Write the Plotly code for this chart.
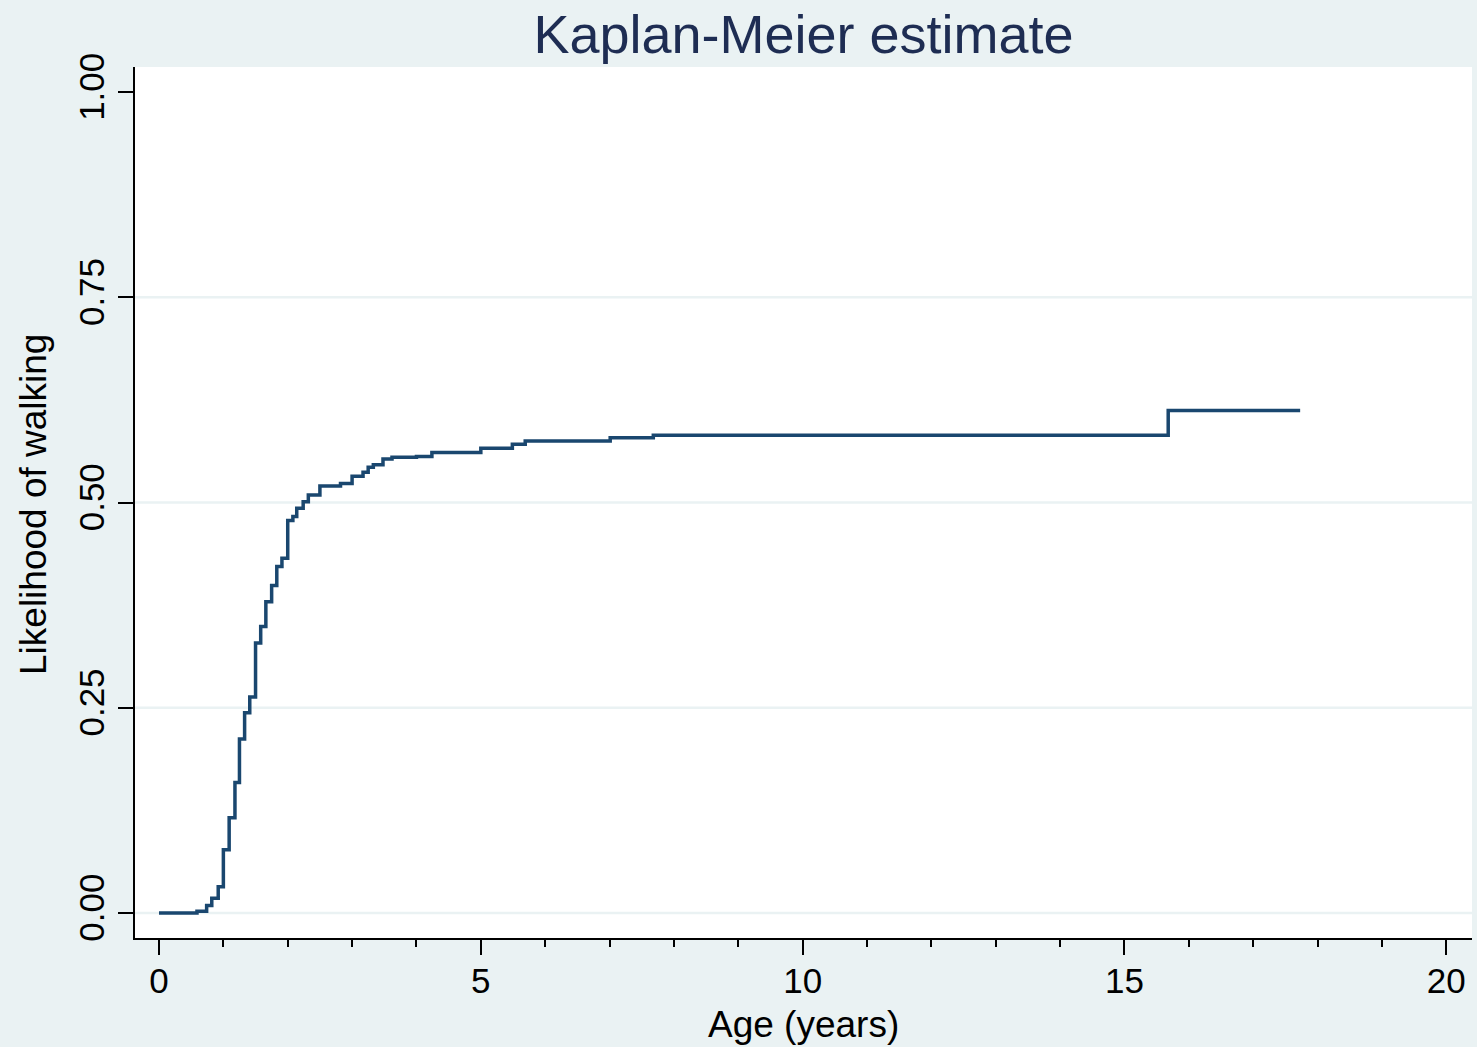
import plotly.graph_objects as go

# Kaplan-Meier step estimate
ages = [0, 0.59, 0.74, 0.82, 0.92, 1.00, 1.09, 1.18, 1.25, 1.33, 1.41, 1.50, 1.58,
        1.66, 1.75, 1.83, 1.91, 2.00, 2.08, 2.14, 2.24, 2.32, 2.50, 2.82, 3.00,
        3.17, 3.25, 3.33, 3.48, 3.62, 4.00, 4.24, 5.00, 5.49, 5.69, 7.01, 7.68,
        15.68, 17.73]
likelihood = [0, 0.002, 0.009, 0.018, 0.032, 0.077, 0.116, 0.159, 0.212, 0.244,
              0.263, 0.329, 0.349, 0.379, 0.399, 0.422, 0.432, 0.478, 0.483,
              0.493, 0.501, 0.509, 0.520, 0.523, 0.532, 0.537, 0.543, 0.546,
              0.553, 0.555, 0.556, 0.561, 0.566, 0.571, 0.575, 0.579, 0.582,
              0.612, 0.612]

x_ticks = [0, 5, 10, 15, 20]
y_ticks = [0, 0.25, 0.5, 0.75, 1.0]
y_tick_labels = ["0.00", "0.25", "0.50", "0.75", "1.00"]
grid_values = [0, 0.25, 0.5, 0.75]

FONT = "Liberation Sans, Arial, Helvetica, sans-serif"
NAVY = "#1a476f"
BG = "#eaf2f3"

fig = go.Figure()
fig.add_trace(go.Scatter(
    x=ages, y=likelihood, mode="lines", line_shape="hv",
    line=dict(color=NAVY, width=3.5), showlegend=False, hoverinfo="x+y",
))

for g in grid_values:
    fig.add_shape(type="line", xref="paper", x0=0, x1=1, yref="y", y0=g, y1=g,
                  line=dict(color=BG, width=2.5), layer="below")

fig.update_layout(
    width=1477, height=1047,
    margin=dict(l=135, r=5, t=67, b=109),
    paper_bgcolor=BG, plot_bgcolor="white",
    font=dict(family=FONT, color="black"),
    title=dict(text="Kaplan-Meier estimate", x=0.5, xref="paper", xanchor="center",
               y=1 - 34 / 1047, yref="container", yanchor="middle",
               font=dict(size=54, color="#1e2d53", family=FONT)),
    xaxis=dict(range=[-0.373, 20.40], tickvals=x_ticks, ticktext=[str(v) for v in x_ticks],
               showgrid=False, zeroline=False, showline=True, linecolor="black", linewidth=2,
               ticks="outside", ticklen=15, tickwidth=2, tickcolor="black",
               ticklabelstandoff=-4,
               tickfont=dict(size=35, color="black"),
               minor=dict(dtick=1, tick0=0, ticks="outside", ticklen=7, tickwidth=2,
                          tickcolor="black", showgrid=False)),
    yaxis=dict(range=[-0.0305, 1.0305], tickvals=y_ticks, ticktext=y_tick_labels,
               tickangle=-90, showgrid=False, zeroline=False, showline=True,
               linecolor="black", linewidth=2, ticks="outside", ticklen=15,
               tickwidth=2, tickcolor="black", tickfont=dict(size=35, color="black")),
    annotations=[
        dict(text="Age (years)", xref="paper", yref="paper", x=0.5, y=(938 - 1024) / 871,
             xanchor="center", yanchor="middle", showarrow=False,
             font=dict(size=37, color="black", family=FONT)),
        dict(text="Likelihood of walking", xref="paper", yref="paper",
             x=(33 - 135) / 1337, y=(938 - 505) / 871, textangle=-90,
             xanchor="center", yanchor="middle", showarrow=False,
             font=dict(size=37, color="black", family=FONT)),
    ],
)

fig.write_html("out.html")
